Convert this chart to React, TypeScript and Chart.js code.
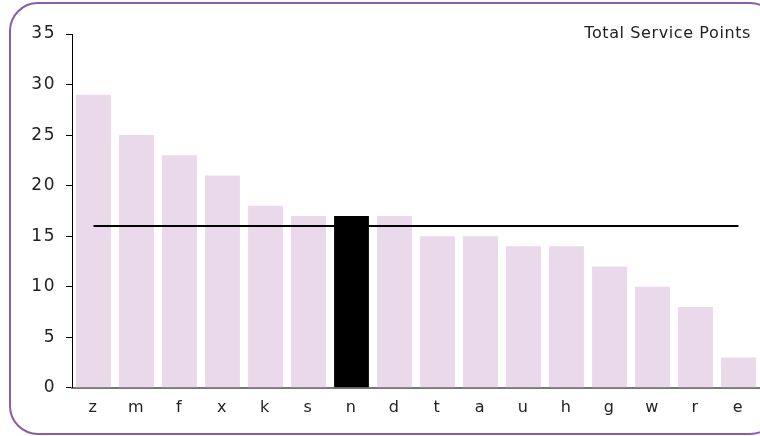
import React, { useEffect, useRef } from "react";
import { Chart, registerables } from "chart.js";

Chart.register(...registerables);

const categories = ["z", "m", "f", "x", "k", "s", "n", "d", "t", "a", "u", "h", "g", "w", "r", "e"];
const servicePoints = [29, 25, 23, 21, 18, 17, 17, 17, 15, 15, 14, 14, 12, 10, 8, 3];
const averageValue = 16;
const highlighted = "n";
const titleText = "Total Service Points";

const FONT = "'DejaVu Sans', sans-serif";

const framePlugin = {
  id: "frame",
  beforeInit(chart: any) {
    (chart.ctx as any).letterSpacing = "1.5px";
  },
  beforeDraw(chart: any) {
    (chart.ctx as any).letterSpacing = "1.5px";
  },
  afterDraw(chart: any) {
    const ctx = chart.ctx;
    ctx.save();
    ctx.strokeStyle = "#8a5da8";
    ctx.lineWidth = 2;
    ctx.beginPath();
    (ctx as any).roundRect(10, 3, 768, 431, 28);
    ctx.stroke();
    ctx.fillStyle = "#222";
    ctx.font = `16px ${FONT}`;
    (ctx as any).letterSpacing = "0.6px";
    ctx.textAlign = "right";
    ctx.textBaseline = "middle";
    ctx.fillText(titleText, 751, 34);
    ctx.restore();
  },
};

export default function App() {
  const ref = useRef<HTMLCanvasElement>(null);
  useEffect(() => {
    document.body.style.margin = "0";
    const chart = new Chart(ref.current!, {
      type: "bar",
      data: {
        labels: categories,
        datasets: [
          {
            type: "line",
            data: categories.map(() => averageValue),
            borderColor: "#000",
            borderWidth: 2,
            pointRadius: 0,
            order: 0,
          } as any,
          {
            type: "bar",
            data: servicePoints,
            backgroundColor: categories.map((c) => (c === highlighted ? "#000" : "#ead8eb")),
            barPercentage: 0.81,
            categoryPercentage: 1,
            order: 1,
          },
        ],
      },
      options: {
        animation: false,
        responsive: false,
        layout: { padding: { top: 34, right: 0, bottom: 17, left: 0 } },
        plugins: { legend: { display: false }, tooltip: { enabled: false } },
        scales: {
          x: {
            grid: { display: false },
            border: { display: true, color: "#777", width: 2 },
            ticks: { color: "#222", font: { family: FONT, size: 16 }, padding: 2 },
          },
          y: {
            min: 0,
            max: 35,
            afterFit(scale: any) {
              scale.width = 72;
            },
            ticks: { stepSize: 5, color: "#222", font: { family: FONT, size: 17 }, padding: 10 },
            grid: { drawOnChartArea: false, drawTicks: true, tickLength: 6, color: "#000" },
            border: { display: true, color: "#000", width: 1 },
          },
        },
      },
      plugins: [framePlugin],
    });
    return () => chart.destroy();
  }, []);
  return <canvas ref={ref} width={760} height={436} style={{ display: "block" }} />;
}
